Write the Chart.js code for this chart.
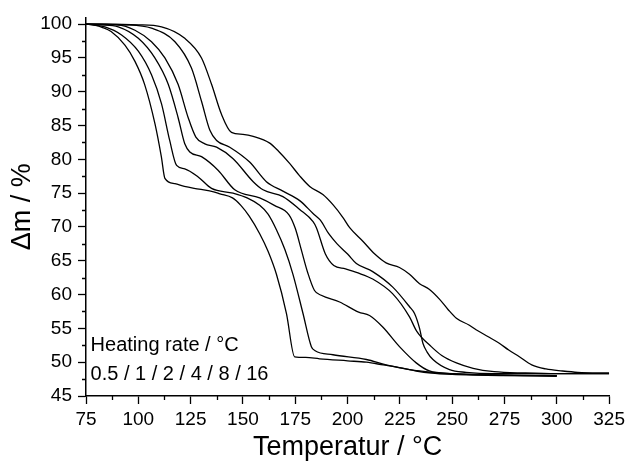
<!DOCTYPE html>
<html>
<head>
<meta charset="utf-8">
<script src="https://cdn.jsdelivr.net/npm/chart.js@4.4.1/dist/chart.umd.min.js"></script>
<style>
  html, body { margin: 0; padding: 0; background: #fff; }
</style>
</head>
<body>
<canvas id="c" width="629" height="461"></canvas>
<script>
// TG-Kurven bei verschiedenen Heizraten (0.5 ... 16 °C/min)

const temp05 = [75, 79, 83, 87, 93.6, 98.4, 103, 108, 111, 112.7, 117.5, 122, 129, 136, 139, 145, 149, 153, 158, 162, 166, 170.8, 174.7, 180, 186.6, 200, 209, 217, 224.8, 232.8, 240, 250, 260, 280, 300];
const mass05 = [100, 99.85, 99.5, 98.9, 96.9, 94.5, 91.1, 85.2, 80.4, 77.2, 76.4, 76.0, 75.6, 75.2, 74.9, 74.3, 73.2, 71.6, 69.0, 66.4, 63.0, 57.2, 50.8, 50.7, 50.5, 50.2, 50.0, 49.6, 49.2, 48.7, 48.4, 48.2, 48.1, 48.0, 47.9];

const temp1 = [75, 84, 92, 100, 106.3, 111.1, 115, 118.3, 122.2, 128.6, 135, 145.3, 152, 158, 162, 166, 170, 173.9, 178.7, 182.7, 184.5, 193, 209, 218.4, 229.6, 240.8, 250, 260, 280, 300];
const mass1 = [100, 99.6, 98.4, 96.0, 92.5, 88.2, 82.8, 79.1, 78.6, 77.4, 75.7, 75.0, 74.3, 73.2, 71.9, 69.6, 66.7, 63.0, 57.2, 52.3, 51.7, 51.1, 50.4, 49.6, 48.9, 48.5, 48.3, 48.2, 48.1, 48.0];

const temp2 = [75, 82, 90.4, 100, 107.9, 114.3, 119, 122.2, 124.6, 130.2, 138.1, 146.1, 158, 165, 172, 175, 178, 181, 184.2, 187.4, 196.2, 205.3, 210.5, 216.8, 224.8, 232.8, 239.1, 250, 270, 300];
const mass2 = [100, 99.9, 99.6, 97.9, 95.0, 91.1, 86.2, 82.3, 81.1, 80.4, 78.4, 75.5, 74.3, 73.2, 71.8, 69.8, 66.5, 63.2, 60.6, 59.9, 58.9, 57.4, 56.9, 55.2, 52.3, 49.9, 48.7, 48.3, 48.1, 48.0];

const temp4 = [75, 90, 98.4, 106.3, 112.7, 119, 123.8, 127.5, 131.8, 137.4, 145.3, 154.9, 159.6, 169.1, 177.1, 183.5, 185.1, 189.4, 193.4, 199, 205, 212, 221.6, 229.6, 233, 240, 245, 252, 260, 270, 285, 300, 325];
const mass4 = [100, 99.9, 99.1, 97.4, 95.0, 91.1, 86.2, 83.3, 82.3, 81.8, 80.1, 76.7, 75.5, 74.5, 72.6, 70.8, 69.9, 66.0, 64.3, 63.8, 63.2, 62.3, 60.1, 56.7, 54.6, 52.3, 51.0, 49.9, 49.1, 48.6, 48.4, 48.3, 48.3];

const temp8 = [75, 95, 106.3, 117.5, 125.4, 130.2, 134.2, 137.4, 143.7, 153.2, 161.2, 169.1, 177.1, 183.5, 187, 191, 195, 200, 204.2, 212, 221.6, 229.6, 232, 234.4, 236, 238, 240.8, 248.7, 256.6, 270, 300, 325];
const mass8 = [100, 99.9, 99.4, 97.4, 93.5, 88.6, 84.3, 82.8, 81.8, 79.6, 76.7, 75.3, 73.9, 72.0, 71.0, 69.0, 67.5, 66.0, 64.6, 63.4, 61.1, 58.2, 57.2, 55.0, 52.8, 51.5, 50.4, 48.9, 48.5, 48.3, 48.3, 48.3];

const temp16 = [75, 100, 111.1, 122.2, 130.2, 135, 139.7, 144.5, 150, 154.9, 162.8, 167, 172.3, 177, 181.9, 188.2, 193, 197.8, 201, 207.3, 213, 218.4, 224.8, 229.6, 234.4, 239, 244, 248, 252, 258, 261.4, 267, 272.5, 277, 282.1, 288, 294.8, 302.7, 310, 325];
const mass16 = [100, 99.9, 99.6, 97.9, 95.0, 91.1, 86.7, 84.0, 83.7, 83.4, 82.4, 81.2, 79.4, 77.6, 76.0, 74.8, 73.3, 71.4, 69.9, 67.9, 66.0, 64.7, 64.0, 63.0, 61.6, 60.8, 59.3, 57.8, 56.5, 55.5, 54.8, 53.8, 52.8, 51.8, 50.8, 49.6, 49.0, 48.7, 48.5, 48.4];

const seriesTemps = [temp05, temp1, temp2, temp4, temp8, temp16];
const seriesMasses = [mass05, mass1, mass2, mass4, mass8, mass16];
const rateLabels = ['0.5', '1', '2', '4', '8', '16'];

const xMajorTicks = [75, 100, 125, 150, 175, 200, 225, 250, 275, 300, 325];
const yMajorTicks = [45, 50, 55, 60, 65, 70, 75, 80, 85, 90, 95, 100];
const xMinorTicks = [87.5, 112.5, 137.5, 162.5, 187.5, 212.5, 237.5, 262.5, 287.5, 312.5];
const yMinorTicks = [47.5, 52.5, 57.5, 62.5, 67.5, 72.5, 77.5, 82.5, 87.5, 92.5, 97.5];

const annotationLines = ['Heating rate / °C', '0.5 / 1 / 2 / 4 / 8 / 16'];
const annotationX = 77.2;
const annotationY = [52.45, 48.2];

const FONT = 'Arial, "Liberation Sans", sans-serif';

// kleine Striche zwischen den Hauptticks + Beschriftung im Diagramm
const extrasPlugin = {
  id: 'extras',
  afterDraw(chart) {
    const { ctx, scales: { x, y } } = chart;
    ctx.save();
    ctx.strokeStyle = '#000';
    ctx.lineWidth = 1.3;
    ctx.beginPath();
    xMinorTicks.forEach((v) => {
      const px = Math.round(x.getPixelForValue(v)) + 0.5;
      ctx.moveTo(px, y.bottom);
      ctx.lineTo(px, y.bottom + 4);
    });
    yMinorTicks.forEach((v) => {
      const py = Math.round(y.getPixelForValue(v)) + 0.5;
      ctx.moveTo(x.left, py);
      ctx.lineTo(x.left - 4, py);
    });
    ctx.stroke();

    ctx.fillStyle = '#000';
    ctx.font = '20px ' + FONT;
    ctx.textAlign = 'left';
    ctx.textBaseline = 'middle';
    annotationLines.forEach((t, i) => {
      ctx.fillText(t, x.getPixelForValue(annotationX), y.getPixelForValue(annotationY[i]));
    });
    ctx.restore();
  },
};

const datasets = seriesTemps.map((temps, i) => ({
  label: rateLabels[i],
  data: temps.map((t, j) => ({ x: t, y: seriesMasses[i][j] })),
  borderColor: '#000',
  borderWidth: 1.3,
  pointRadius: 0,
  cubicInterpolationMode: 'monotone',
}));

new Chart(document.getElementById('c'), {
  type: 'line',
  data: { datasets },
  plugins: [extrasPlugin],
  options: {
    responsive: false,
    animation: false,
    layout: { padding: { top: 14, right: 19, left: 0, bottom: 0 } },
    plugins: { legend: { display: false }, tooltip: { enabled: false } },
    scales: {
      x: {
        type: 'linear',
        min: 75,
        max: 325,
        afterBuildTicks: (s) => { s.ticks = xMajorTicks.map((v) => ({ value: v })); },
        afterFit: (s) => { s.height = 65; },
        ticks: { color: '#000', font: { family: FONT, size: 19 }, padding: 4, maxRotation: 0, autoSkip: false },
        grid: { drawOnChartArea: false, color: '#000', tickLength: 8, tickWidth: 1.3 },
        border: { color: '#000', width: 1.5 },
        title: {
          display: true,
          text: 'Temperatur / °C',
          color: '#000',
          font: { family: FONT, size: 27, lineHeight: 1 },
          padding: { top: 0, bottom: 0 },
        },
      },
      y: {
        type: 'linear',
        min: 45,
        max: 101,
        afterBuildTicks: (s) => { s.ticks = yMajorTicks.map((v) => ({ value: v })); },
        afterFit: (s) => { s.width = 86; },
        ticks: { color: '#000', font: { family: FONT, size: 19 }, padding: 6, autoSkip: false },
        grid: { drawOnChartArea: false, color: '#000', tickLength: 8, tickWidth: 1.3 },
        border: { color: '#000', width: 1.5 },
        title: {
          display: true,
          text: 'Δm / %',
          color: '#000',
          font: { family: FONT, size: 27, lineHeight: 1 },
          padding: { top: 9, bottom: 0 },
        },
      },
    },
  },
});
</script>
</body>
</html>
